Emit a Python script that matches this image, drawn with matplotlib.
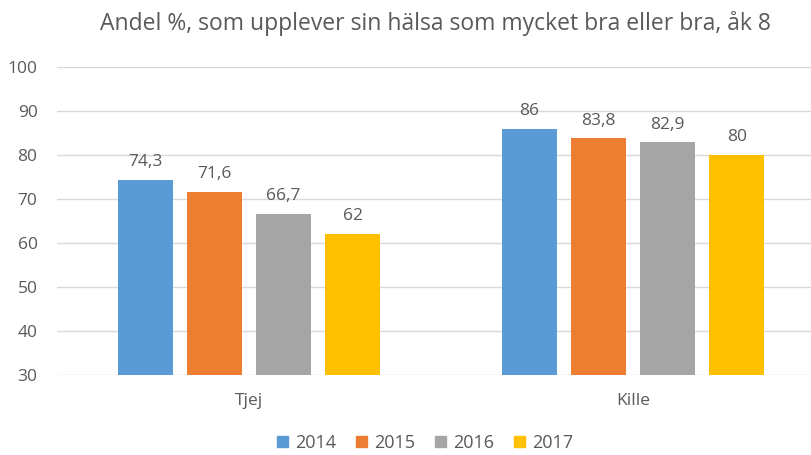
import numpy as np
import matplotlib.pyplot as plt
from matplotlib.patches import Patch

# Data
categories = ['Tjej', 'Kille']
years = ['2014', '2015', '2016', '2017']
values = {
    '2014': [74.3, 86],
    '2015': [71.6, 83.8],
    '2016': [66.7, 82.9],
    '2017': [62, 80],
}
labels = {
    '2014': ['74,3', '86'],
    '2015': ['71,6', '83,8'],
    '2016': ['66,7', '82,9'],
    '2017': ['62', '80'],
}
colors = ['#5B9BD5', '#ED7D31', '#A5A5A5', '#FFC000']
txt = '#595959'

plt.rcParams['font.family'] = ['Open Sans', 'DejaVu Sans']

fig = plt.figure(figsize=(8.12, 4.55), dpi=100)
ax = fig.add_axes([57 / 812, 1 - 375 / 455, 768 / 812, 308 / 455])

x = np.arange(len(categories))
width = 0.143
step = 0.18
for i, yr in enumerate(years):
    pos = x + (i - 1.5) * step
    bars = ax.bar(pos, values[yr], width, bottom=0, color=colors[i], zorder=3)
    for xp, v, lab in zip(pos, values[yr], labels[yr]):
        ax.annotate(lab, (xp, v), xytext=(0, 7), textcoords='offset points',
                    ha='center', va='bottom', fontsize=12.5, color=txt)

ax.set_ylim(30, 100)
ax.set_xlim(-0.5, 1.5)
ax.set_yticks(range(30, 101, 10))
ax.set_xticks(x)
ax.set_xticklabels(categories)
ax.grid(axis='y', color='#D9D9D9', linewidth=1, zorder=0)
for s in ax.spines.values():
    s.set_visible(False)
ax.tick_params(length=0, colors=txt, labelsize=12.5)
ax.tick_params(axis='y', pad=14)
ax.tick_params(axis='x', pad=13)

fig.text(435 / 812, 1 - 23 / 455, 'Andel %, som upplever sin hälsa som mycket bra eller bra, åk 8',
         ha='center', va='center', fontsize=16.5, color=txt)

handles = [Patch(color=c, label=y) for c, y in zip(colors, years)]
fig.legend(handles=handles, loc='center', bbox_to_anchor=(425 / 812, 1 - 443 / 455),
           ncol=4, frameon=False, fontsize=13, labelcolor=txt,
           handlelength=0.6, handleheight=0.6, handletextpad=0.4, columnspacing=1.1)

fig.savefig('out.png', dpi=100)
